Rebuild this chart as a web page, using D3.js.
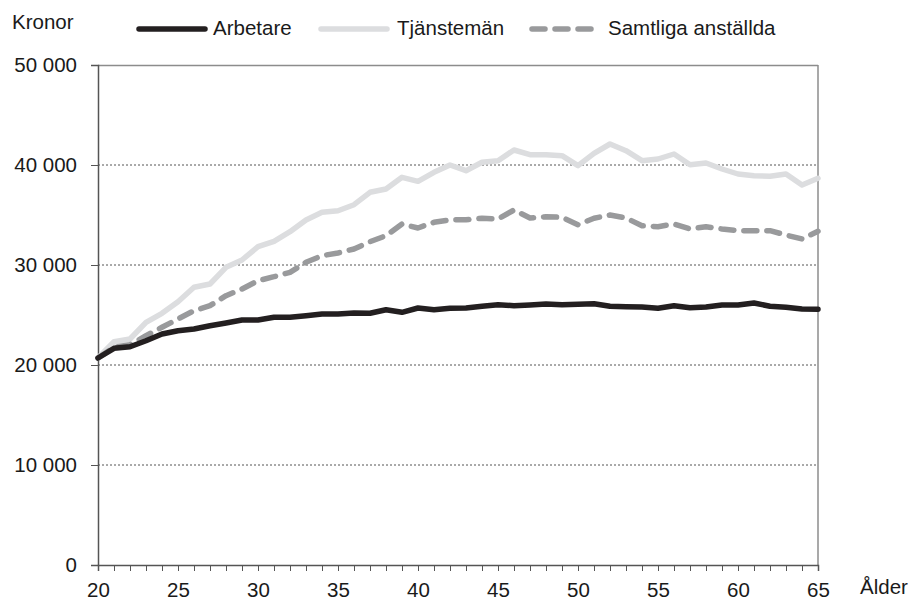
<!DOCTYPE html>
<html>
<head>
<meta charset="utf-8">
<script src="https://cdn.jsdelivr.net/npm/d3@7"></script>
<style>
  body { margin: 0; background: #fff; }
  svg text { font-family: "Liberation Sans", Arial, sans-serif; fill: #1a1a1a; }
</style>
</head>
<body>
<div id="chart"></div>
<script>
const ages = d3.range(20, 66)

const arbetare = [20700, 21670, 21830, 22430, 23100, 23430, 23600, 23930, 24200, 24500,
  24500, 24770, 24770, 24930, 25100, 25100, 25200, 25170, 25530, 25270,
  25700, 25530, 25670, 25700, 25870, 26030, 25930, 26000, 26100, 26030,
  26070, 26130, 25870, 25830, 25800, 25670, 25930, 25730, 25800, 26000,
  26000, 26200, 25870, 25770, 25600, 25570]

const tjansteman = [20700, 22330, 22600, 24270, 25170, 26330, 27770, 28100, 29770, 30500,
  31830, 32370, 33330, 34500, 35270, 35430, 36030, 37270, 37600, 38770,
  38370, 39270, 40000, 39430, 40270, 40430, 41500, 41030, 41030, 40930,
  39930, 41170, 42100, 41430, 40430, 40600, 41100, 40030, 40200, 39600,
  39100, 38930, 38870, 39100, 38000, 38670]

const samtliga = [20700, 21770, 22030, 22930, 23770, 24600, 25430, 25930, 26930, 27600,
  28430, 28830, 29270, 30270, 30930, 31200, 31600, 32330, 32930, 34100,
  33700, 34270, 34520, 34530, 34670, 34600, 35500, 34700, 34830, 34770,
  34030, 34670, 35000, 34700, 33930, 33830, 34100, 33600, 33830, 33600,
  33430, 33430, 33430, 33000, 32600, 33370]

const yTicks = [0, 10000, 20000, 30000, 40000, 50000]
const xLabels = [20, 25, 30, 35, 40, 45, 50, 55, 60, 65]

const seriesNames = ["Arbetare", "Tjänstemän", "Samtliga anställda"]
const seriesValues = [arbetare, tjansteman, samtliga]

const width = 914, height = 600
const margin = {top: 65, right: 96, bottom: 35, left: 98}
const innerW = width - margin.left - margin.right
const innerH = height - margin.top - margin.bottom
const fontSize = "20.5px"

const svg = d3.select("#chart").append("svg")
  .attr("width", width)
  .attr("height", height)

const g = svg.append("g")
  .attr("transform", "translate(" + margin.left + "," + margin.top + ")")

const x = d3.scaleLinear().domain([20, 65]).range([0, innerW])
const y = d3.scaleLinear().domain([0, 50000]).range([innerH, 0])

const fmt = v => d3.format(",")(v).replace(/,/g, " ")

// dotted grid
g.append("g")
  .selectAll("line")
  .data(yTicks.filter(v => v > 0 && v < 50000))
  .join("line")
  .attr("x1", 0).attr("x2", innerW)
  .attr("y1", d => y(d)).attr("y2", d => y(d))
  .attr("stroke", "#555")
  .attr("stroke-width", 1)
  .attr("stroke-dasharray", "2,2")

// frame top + right
g.append("line").attr("x1", 0).attr("x2", innerW).attr("y1", 0.5).attr("y2", 0.5)
  .attr("stroke", "#8c8c8c").attr("stroke-width", 1.5)
g.append("line").attr("x1", innerW).attr("x2", innerW).attr("y1", 0).attr("y2", innerH)
  .attr("stroke", "#8c8c8c").attr("stroke-width", 1.5)

// y axis
const yAxis = g.append("g")
  .call(d3.axisLeft(y).tickValues(yTicks).tickSize(7).tickPadding(14).tickFormat(fmt))
yAxis.select(".domain").attr("stroke", "#555").attr("stroke-width", 1.5)
yAxis.selectAll(".tick line").attr("stroke", "#555")
yAxis.selectAll("text").style("font-size", fontSize).attr("fill", "#1a1a1a")

// x axis
const xAxis = g.append("g")
  .attr("transform", "translate(0," + innerH + ")")
  .call(d3.axisBottom(x).tickValues(ages).tickSize(6).tickPadding(11)
    .tickFormat(d => xLabels.includes(d) ? d : ""))
xAxis.select(".domain").attr("stroke", "#555").attr("stroke-width", 1.5)
xAxis.selectAll(".tick line").attr("stroke", "#555")
xAxis.selectAll("text").style("font-size", fontSize).attr("fill", "#1a1a1a")

// lines
const line = d3.line()
  .x((d, i) => x(ages[i]))
  .y(d => y(d))

const styles = [
  {stroke: "#231f20", dash: null},
  {stroke: "#dcdddf", dash: null},
  {stroke: "#999a9c", dash: "13,10"}
]

// draw order: tjänstemän, samtliga, arbetare
;[1, 2, 0].forEach(i => {
  g.append("path")
    .datum(seriesValues[i])
    .attr("fill", "none")
    .attr("stroke", styles[i].stroke)
    .attr("stroke-width", 5.5)
    .attr("stroke-linejoin", "round")
    .attr("stroke-linecap", "round")
    .attr("stroke-dasharray", styles[i].dash)
    .attr("d", line)
})

// axis titles
svg.append("text").attr("x", 12).attr("y", 29).text("Kronor").style("font-size", fontSize)
svg.append("text").attr("x", 860).attr("y", 594).text("Ålder").style("font-size", fontSize)

// legend
const legendPos = [{x1: 139, x2: 205, tx: 213}, {x1: 321, x2: 387, tx: 397}, {x1: 532, x2: 593, tx: 608}]
const legend = svg.append("g")
seriesNames.forEach((name, i) => {
  const p = legendPos[i]
  legend.append("line")
    .attr("x1", p.x1).attr("x2", p.x2).attr("y1", 29).attr("y2", 29)
    .attr("stroke", styles[i].stroke)
    .attr("stroke-width", 5.5)
    .attr("stroke-linecap", "round")
    .attr("stroke-dasharray", styles[i].dash)
  legend.append("text")
    .attr("x", p.tx).attr("y", 35)
    .text(name)
    .style("font-size", fontSize)
})
</script>
</body>
</html>
